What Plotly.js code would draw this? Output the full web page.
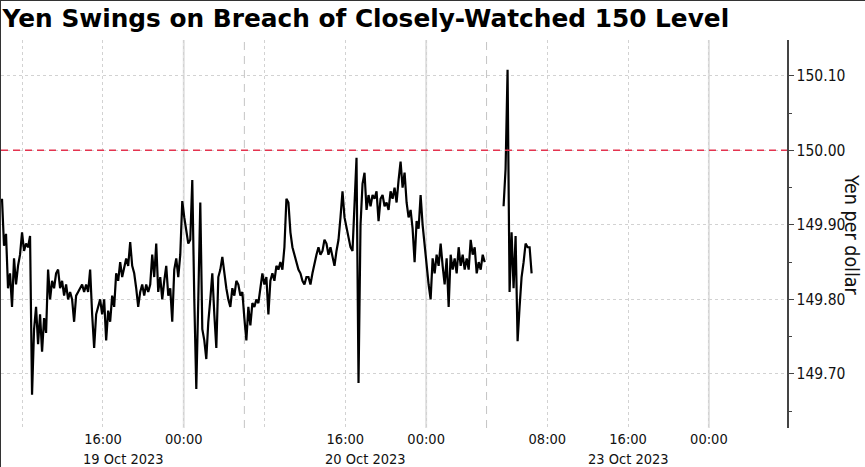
<!DOCTYPE html>
<html>
<head>
<meta charset="utf-8">
<script src="https://cdn.plot.ly/plotly-3.0.1.min.js"></script>
<style>
  html, body { margin: 0; padding: 0; background: #fff; }
  #wrap { position: relative; width: 865px; height: 467px; }
  #chart { width: 865px; height: 467px; }
  #frame { position: absolute; left: 0; top: 0; width: 865px; height: 467px; box-sizing: border-box;
           border-left: 1px solid #333; border-top: 1px solid #333; pointer-events: none; }
</style>
</head>
<body>
<div id="wrap"><div id="chart"></div><div id="frame"></div></div>
<script>
// ---- Data (USD/JPY) ----
// Thu 19 Oct 06:00 -> Sat 21 Oct ~05:50 session, one reading every ~12 minutes
const fridayStart = '2023-10-19T06:00:00';
const mondayStart = '2023-10-23T03:40:00';
const stepMinutes = 11.9;
const fridayValues = [
 149.935,149.872,149.888,149.815,149.835,149.790,149.855,149.820,149.845,149.860,
 149.890,149.865,149.875,149.870,149.885,149.672,149.760,149.790,149.740,149.780,
 149.730,149.775,149.755,149.840,149.800,149.825,149.815,149.835,149.840,149.815,
 149.825,149.805,149.820,149.800,149.810,149.800,149.770,149.805,149.810,149.815,
 149.820,149.810,149.820,149.810,149.840,149.780,149.735,149.780,149.790,149.800,
 149.780,149.800,149.745,149.785,149.770,149.805,149.790,149.835,149.825,149.850,
 149.830,149.845,149.855,149.845,149.877,149.845,149.835,149.815,149.790,149.810,
 149.820,149.805,149.820,149.810,149.820,149.860,149.830,149.875,149.810,149.830,
 149.800,149.825,149.845,149.805,149.815,149.770,149.840,149.855,149.830,149.860,
 149.932,149.910,149.895,149.875,149.880,149.960,149.800,149.680,149.800,149.930,
 149.760,149.745,149.720,149.770,149.800,149.835,149.780,149.735,149.830,149.840,
 149.857,149.835,149.815,149.800,149.790,149.815,149.805,149.825,149.820,149.805,
 149.810,149.775,149.745,149.790,149.765,149.795,149.790,149.800,149.795,149.815,
 149.835,149.820,149.830,149.780,149.825,149.835,149.825,149.845,149.840,149.850,
 149.840,149.870,149.935,149.930,149.890,149.870,149.860,149.848,149.840,149.835,
 149.825,149.820,149.830,149.830,149.820,149.835,149.850,149.860,149.870,149.860,
 149.865,149.880,149.875,149.860,149.870,149.855,149.845,149.865,149.880,149.910,
 149.945,149.910,149.895,149.880,149.870,149.865,149.930,149.990,149.688,149.900,
 149.955,149.970,149.920,149.940,149.925,149.940,149.935,149.945,149.905,149.935,
 149.940,149.925,149.930,149.920,149.945,149.935,149.950,149.930,149.960,149.985,
 149.950,149.970,149.930,149.910,149.920,149.895,149.850,149.905,149.895,149.940,
 149.900,149.870,149.845,149.820,149.800,149.855,149.835,149.860,149.845,149.875,
 149.845,149.820,149.855,149.790,149.860,149.840,149.855,149.835,149.870,149.845,
 149.860,149.840,149.855,149.840,149.880,149.860,149.870,149.835,149.850,149.840,
 149.860,149.850
];
// Mon 23 Oct session
const mondayValues = [
 149.925,149.975,150.108,149.810,149.890,149.815,149.885,149.744,149.790,149.830,
 149.850,149.875,149.870,149.870,149.835
];
const threshold = 150.00;
const tickDates = ['2023-10-19 08:00','2023-10-19 16:00','2023-10-20 00:00','2023-10-20 08:00',
                   '2023-10-20 16:00','2023-10-21 00:00','2023-10-23 08:00','2023-10-23 16:00','2023-10-24 00:00'];
const tickLabels = ['','16:00','00:00','','16:00','00:00','08:00','16:00','00:00'];
const midnights = ['2023-10-20 00:00','2023-10-21 00:00','2023-10-24 00:00'];
const sessionBreaks = ['2023-10-20 06:00','2023-10-21 05:59'];
const dateLabels = ['19 Oct 2023','20 Oct 2023','23 Oct 2023'];
const dateLabelPos = ['2023-10-19 18:00','2023-10-20 18:00','2023-10-23 16:00'];

function timesFrom(start, n) {
  const t0 = new Date(start + 'Z').getTime();
  const out = [];
  for (let i = 0; i < n; i++) {
    const d = new Date(t0 + i * stepMinutes * 60000);
    out.push(d.toISOString().slice(0, 19).replace('T', ' '));
  }
  return out;
}

const fontFam = 'Tahoma, "DejaVu Sans Condensed", "DejaVu Sans", sans-serif';
const lineStyle = { color: '#000', width: 2.2 };

const traces = [
  { type: 'scatter', mode: 'lines', x: timesFrom(fridayStart, fridayValues.length), y: fridayValues,
    line: lineStyle, hoverinfo: 'skip', showlegend: false },
  { type: 'scatter', mode: 'lines', x: timesFrom(mondayStart, mondayValues.length), y: mondayValues,
    line: lineStyle, hoverinfo: 'skip', showlegend: false }
];

const shapes = [];
midnights.forEach(d => shapes.push({ type: 'line', xref: 'x', yref: 'paper', x0: d, x1: d, y0: 0, y1: 1,
  line: { color: '#e0e0e0', width: 2 }, layer: 'below' }));
sessionBreaks.forEach(d => shapes.push({ type: 'line', xref: 'x', yref: 'paper', x0: d, x1: d, y0: 0, y1: 1,
  line: { color: '#c4c4c4', width: 1, dash: '8px,6px' }, layer: 'below' }));
shapes.push({ type: 'line', xref: 'paper', yref: 'y', x0: 0, x1: 1, y0: threshold, y1: threshold,
  line: { color: '#e3334f', width: 1.5, dash: '7px,5px' }, layer: 'above' });

const annotations = dateLabels.map((t, i) => ({
  text: t, xref: 'x', yref: 'paper', x: dateLabelPos[i], y: -0.079, yanchor: 'middle', xanchor: 'center',
  showarrow: false, font: { family: fontFam, size: 14.5, color: '#111' }
}));
annotations.push({ text: 'Yen per dollar', xref: 'paper', yref: 'paper', x: 1.083, y: 0.497,
  xanchor: 'center', yanchor: 'middle', textangle: 90, showarrow: false,
  font: { family: fontFam, size: 19.5, color: '#111' } });

const layout = {
  width: 865, height: 467,
  margin: { l: 1, r: 78, t: 40, b: 39 },
  paper_bgcolor: '#fff', plot_bgcolor: '#fff',
  title: { text: 'Yen Swings on Breach of Closely-Watched 150 Level', xref: 'container', x: 0.003, xanchor: 'left',
           yref: 'container', y: 0.961, yanchor: 'middle',
           font: { family: '"DejaVu Sans", Verdana, sans-serif', size: 24.8, weight: 700, color: '#000' } },
  xaxis: {
    type: 'date', range: ['2023-10-19 05:54', '2023-10-24 07:44'],
    rangebreaks: [{ bounds: ['2023-10-21 06:00', '2023-10-23 02:00'] }],
    tickmode: 'array', tickvals: tickDates, ticktext: tickLabels,
    showgrid: true, gridcolor: '#d2d2d2', griddash: 'dot', gridwidth: 1,
    ticks: '', showline: false, zeroline: false, ticklabelstandoff: 0,
    tickfont: { family: fontFam, size: 14.5, color: '#111' }
  },
  yaxis: {
    side: 'right', range: [149.6275, 150.148],
    tickmode: 'linear', tick0: 149.7, dtick: 0.1, tickformat: '.2f',
    ticks: 'outside', ticklen: 5, tickwidth: 1, tickcolor: '#444',
    minor: { tickmode: 'linear', tick0: 149.65, dtick: 0.05, ticks: 'outside', ticklen: 3, tickcolor: '#444', showgrid: false },
    showline: true, linecolor: '#444', linewidth: 1.5,
    showgrid: true, gridcolor: '#d2d2d2', griddash: 'dot', gridwidth: 1, zeroline: false,
    tickfont: { family: fontFam, size: 15.5, color: '#111' }
  },
  shapes: shapes,
  annotations: annotations
};

Plotly.newPlot('chart', traces, layout, { displayModeBar: false, staticPlot: true });
</script>
</body>
</html>
